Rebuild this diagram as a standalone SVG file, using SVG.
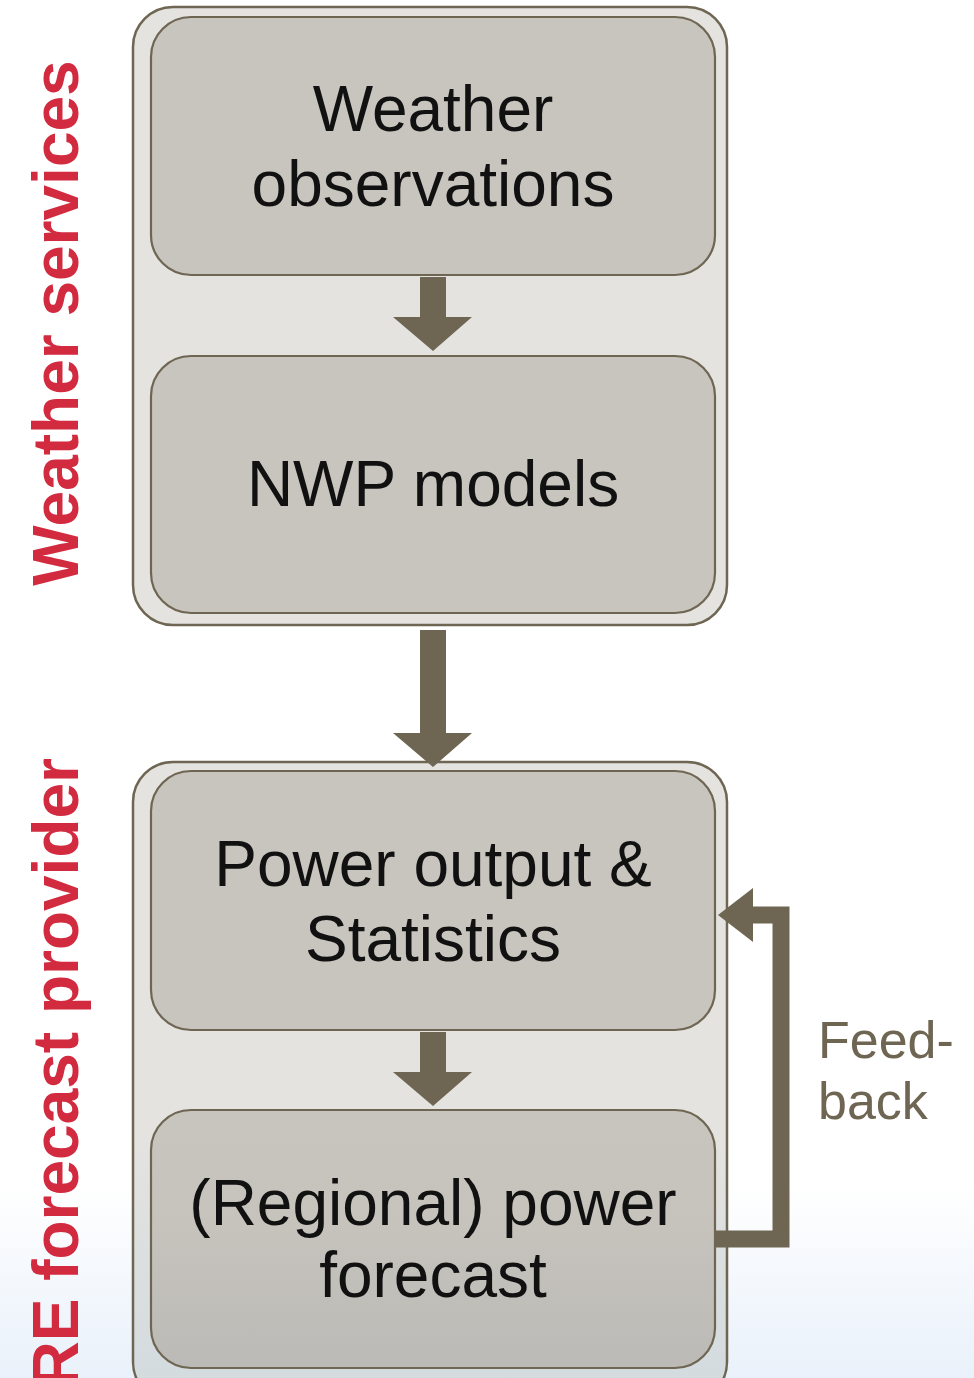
<svg xmlns="http://www.w3.org/2000/svg" width="974" height="1378" viewBox="0 0 974 1378">
<defs>
<linearGradient id="bg" x1="0" y1="0" x2="0" y2="1378" gradientUnits="userSpaceOnUse">
<stop offset="0" stop-color="#ffffff"/>
<stop offset="0.86" stop-color="#ffffff"/>
<stop offset="1" stop-color="#e9f1fa"/>
</linearGradient>
<linearGradient id="outer2" x1="0" y1="762" x2="0" y2="1390" gradientUnits="userSpaceOnUse">
<stop offset="0" stop-color="#e4e3e0"/>
<stop offset="0.6" stop-color="#e4e3e0"/>
<stop offset="1" stop-color="#d3dbdf"/>
</linearGradient>
<linearGradient id="inner4" x1="0" y1="1110" x2="0" y2="1368" gradientUnits="userSpaceOnUse">
<stop offset="0" stop-color="#c8c4be"/>
<stop offset="0.45" stop-color="#c6c3bd"/>
<stop offset="1" stop-color="#bbbab6"/>
</linearGradient>
<style>
.outer{fill:#e4e3e0;stroke:#6e6652;stroke-width:2.5}
.inner{fill:#c8c4be;stroke:#6e6652;stroke-width:2.2}
.lbl{font-family:"Liberation Sans",Arial,sans-serif;font-size:64px;fill:#111111;text-anchor:middle}
.side{font-family:"Liberation Sans",Arial,sans-serif;font-size:64px;font-weight:bold;fill:#d22b40}
.fb{font-family:"Liberation Sans",Arial,sans-serif;font-size:52px;fill:#6e6652}
.arr{fill:#6e6652}
</style>
</defs>
<rect x="0" y="0" width="974" height="1378" fill="url(#bg)"/>
<g id="group-weather">
<rect class="outer" x="133" y="7" width="594" height="618" rx="40"/>
</g>
<g id="group-provider">
<rect class="outer" x="133" y="762" width="594" height="640" rx="40" style="fill:url(#outer2)"/>
</g>
<g id="node-weather-observations">
<rect class="inner" x="151" y="17" width="564" height="258" rx="40"/>
<text class="lbl" x="433" y="131">Weather</text>
<text class="lbl" x="433" y="206">observations</text>
</g>
<g id="node-nwp">
<rect class="inner" x="151" y="356" width="564" height="257" rx="40"/>
<text class="lbl" x="433" y="506">NWP models</text>
</g>
<g id="node-power-output">
<rect class="inner" x="151" y="771" width="564" height="259" rx="40"/>
<text class="lbl" x="433" y="886">Power output &amp;</text>
<text class="lbl" x="433" y="961">Statistics</text>
</g>
<g id="node-regional">
<rect class="inner" x="151" y="1110" width="564" height="258" rx="40" style="fill:url(#inner4)"/>
<text class="lbl" x="433" y="1225">(Regional) power</text>
<text class="lbl" x="433" y="1297">forecast</text>
</g>
<g id="connectors">
<polygon class="arr" points="420,277 446,277 446,317 472,317 433,351 393,317 420,317"/>
<polygon class="arr" points="420,630 446,630 446,733 472,733 433,767 393,733 420,733"/>
<polygon class="arr" points="420,1032 446,1032 446,1072 472,1072 433,1106 393,1072 420,1072"/>
<polyline points="715,1239 781,1239 781,915 750,915" fill="none" stroke="#6e6652" stroke-width="17" stroke-linejoin="miter"/>
<polygon class="arr" points="753,888 718,915 753,942"/>
</g>
<g id="labels">
<text class="fb" x="818" y="1058">Feed-</text>
<text class="fb" x="818" y="1119">back</text>
<text class="side" transform="translate(78,323) rotate(-90)" text-anchor="middle">Weather services</text>
<text class="side" transform="translate(78,758) rotate(-90)" text-anchor="end">RE forecast provider</text>
</g>
</svg>
